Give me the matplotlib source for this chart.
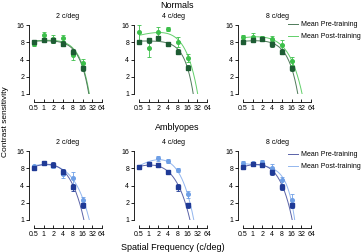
import numpy as np
import matplotlib.pyplot as plt
from matplotlib.lines import Line2D

plt.rcParams['font.family'] = ['Liberation Sans', 'DejaVu Sans']

# ==== Data ====
FREQS = [0.5, 1, 2, 4, 8, 16]
X_TICKS = [0.5, 1, 2, 4, 8, 16, 32, 64]
X_TICK_LABELS = ['0.5', '1', '2', '4', '8', '16', '32', '64']
Y_TICKS = [1, 2, 4, 8, 16]
TRAINED = ['2 c/deg', '4 c/deg', '8 c/deg']

# mean contrast sensitivity, one row per trained frequency
normals_pre = [[8.2, 8.8, 8.7, 7.6, 5.5, 2.8],
               [8.2, 8.6, 9.4, 7.4, 5.5, 2.9],
               [8.2, 8.7, 9.1, 7.5, 5.5, 2.8]]
normals_pre_err = [[0.6, 0.8, 0.8, 0.7, 0.5, 0.3],
                   [0.6, 0.7, 0.7, 0.6, 0.5, 0.3],
                   [0.6, 0.6, 0.6, 0.9, 0.6, 0.3]]
normals_post = [[7.6, 10.5, 9.3, 9.6, 4.7, 3.5],
                [12.2, 6.3, 12.2, 13.5, 8.2, 4.3],
                [10.0, 10.0, 9.4, 9.0, 7.1, 3.8]]
normals_post_err = [[0.8, 1.5, 1.5, 1.2, 0.7, 0.6],
                    [3.5, 1.8, 2.5, 1.0, 1.5, 0.7],
                    [0.9, 1.5, 0.8, 1.3, 1.8, 0.6]]
amb_pre = [[8.2, 9.7, 9.3, 7.0, 3.7, 1.8],
           [8.3, 9.5, 9.1, 7.0, 3.7, 1.8],
           [8.3, 9.5, 9.1, 7.0, 3.8, 1.8]]
amb_pre_err = [[0.6, 0.5, 0.8, 0.8, 0.5, 0.2],
               [0.5, 0.5, 0.6, 0.6, 0.5, 0.2],
               [0.5, 0.6, 0.6, 0.8, 0.5, 0.2]]
amb_post = [[8.6, 9.8, 9.0, 6.4, 5.5, 2.2],
            [8.5, 9.6, 11.9, 10.7, 7.4, 2.8],
            [9.8, 9.8, 10.4, 8.0, 5.0, 2.2]]
amb_post_err = [[0.6, 0.5, 0.9, 1.0, 1.5, 0.3],
                [0.5, 0.5, 1.2, 1.0, 0.6, 0.4],
                [0.7, 0.6, 0.8, 1.5, 0.7, 0.6]]

# fitted curves: curve value at FIT_FREQS, plus the cut-off where sensitivity = 1
FIT_FREQS = [0.5, 2, 8, 16]
normals_pre_fit = [[8.2, 8.8, 5.7, 3.0], [8.2, 8.8, 5.6, 2.9], [8.2, 8.8, 5.6, 2.9]]
normals_pre_cut = [25, 24, 25]
normals_post_fit = [[8.3, 9.0, 6.0, 3.2], [10.5, 12.0, 8.8, 4.8], [9.6, 9.8, 7.0, 3.9]]
normals_post_cut = [26, 33, 34]
amb_pre_fit = [[8.4, 9.4, 3.8, 1.4], [8.4, 9.2, 3.9, 1.5], [8.4, 9.3, 3.9, 1.4]]
amb_pre_cut = [17.5, 19, 16.5]
amb_post_fit = [[8.6, 9.5, 5.3, 2.3], [8.8, 11.2, 7.2, 2.8], [9.2, 10.0, 5.0, 2.2]]
amb_post_cut = [26, 25, 20]

COLORS = {
    'Normals': {'pre': '#1d5c33', 'pre_line': '#4f7a5a', 'post': '#3cbf4a', 'post_line': '#62cf6a'},
    'Amblyopes': {'pre': '#1f3a96', 'pre_line': '#5a63a8', 'post': '#6e9fe6', 'post_line': '#93b6ee'},
}


# ==== Function: fit_curve ====
def fit_curve(anchor_vals, cutoff):
    f = np.array(FIT_FREQS + [cutoff], float)
    ln_s = np.log(np.array(anchor_vals + [1.0], float))
    w = np.array([1, 1, 1, 1.5, 3.0])  # keep the cut-off where it is in the figure
    best = None
    for d in np.linspace(0.8, 2.5, 69):
        A = np.column_stack([np.ones_like(f), np.log(f), -f ** d])
        coef = np.linalg.lstsq(A * w[:, None], ln_s * w, rcond=None)[0]
        err = np.sum(((A @ coef - ln_s) * w) ** 2)
        if best is None or err < best[0]:
            best = (err, coef, d)
    _, (a, b, c), d = best
    return lambda x: np.exp(a + b * np.log(x) - c * x ** d)


# ==== Function: draw_panel ====
def draw_panel(ax, title, colors, pre, pre_err, post, post_err, pre_fit, pre_cut, post_fit, post_cut):
    xs = np.geomspace(0.5, 64, 400)
    ax.plot(xs, fit_curve(post_fit, post_cut)(xs), color=colors['post_line'], lw=0.7)
    ax.plot(xs, fit_curve(pre_fit, pre_cut)(xs), color=colors['pre_line'], lw=0.7)
    ax.errorbar(FREQS, post, yerr=post_err, fmt='o', ms=2.6, color=colors['post'],
                elinewidth=0.6, capsize=1.2, capthick=0.6, clip_on=False)
    ax.errorbar(FREQS, pre, yerr=pre_err, fmt='s', ms=2.6, color=colors['pre'],
                elinewidth=0.6, capsize=1.2, capthick=0.6, clip_on=False)

    ax.set_xscale('log', base=2)
    ax.set_yscale('log', base=2)
    ax.set_xlim(0.5, 64)
    ax.set_ylim(1, 16)
    ax.set_xticks(X_TICKS)
    ax.set_xticklabels(X_TICK_LABELS)
    ax.set_yticks(Y_TICKS)
    ax.set_yticklabels([str(t) for t in Y_TICKS])
    ax.minorticks_off()
    ax.tick_params(axis='x', direction='in', length=2, width=0.6, labelsize=5, pad=2)
    ax.tick_params(axis='y', direction='out', length=2, width=0.6, labelsize=5, pad=1.5)
    for side in ['top', 'right']:
        ax.spines[side].set_visible(False)
    ax.spines['left'].set_position(('outward', 3.6))
    ax.spines['bottom'].set_position(('outward', 5.8))
    ax.spines['left'].set_linewidth(0.6)
    ax.spines['bottom'].set_linewidth(0.6)
    ax.set_title(title, fontsize=5, pad=5)


# ==== Figure ====
fig = plt.figure(figsize=(3.62, 2.52), dpi=100)
lefts = [34 / 362, 139 / 362, 243 / 362]
width = 68 / 362
height = 69 / 252
bottoms = [1 - 94 / 252, 1 - 220 / 252]

rows = [
    ('Normals', normals_pre, normals_pre_err, normals_post, normals_post_err,
     normals_pre_fit, normals_pre_cut, normals_post_fit, normals_post_cut),
    ('Amblyopes', amb_pre, amb_pre_err, amb_post, amb_post_err,
     amb_pre_fit, amb_pre_cut, amb_post_fit, amb_post_cut),
]

for r, (group, pre, pre_e, post, post_e, pre_f, pre_c, post_f, post_c) in enumerate(rows):
    colors = COLORS[group]
    for i in range(3):
        ax = fig.add_axes([lefts[i], bottoms[r], width, height])
        draw_panel(ax, TRAINED[i], colors, pre[i], pre_e[i], post[i], post_e[i],
                   pre_f[i], pre_c[i], post_f[i], post_c[i])
    handles = [Line2D([], [], color=colors['pre_line'], lw=0.7),
               Line2D([], [], color=colors['post_line'], lw=0.7)]
    legend_top = [1 - 21 / 252, 1 - 151 / 252][r]
    fig.legend(handles, ['Mean Pre-training', 'Mean Post-training'], loc='upper left',
               bbox_to_anchor=(288 / 362, legend_top), frameon=False, fontsize=5,
               handlelength=1.45, handletextpad=0.4, labelspacing=0.75,
               borderpad=0, borderaxespad=0)

fig.text(177 / 362, 1 - 5 / 252, 'Normals', ha='center', va='center', fontsize=6.5)
fig.text(177 / 362, 1 - 128 / 252, 'Amblyopes', ha='center', va='center', fontsize=6.5)
fig.text(6 / 362, 1 - 122 / 252, 'Contrast sensitivity', rotation=90,
         ha='center', va='center', fontsize=6)
fig.text(173 / 362, 1 - 247 / 252, 'Spatial Frequency (c/deg)', ha='center',
         va='center', fontsize=6.5)

fig.savefig('out.png', dpi=100)
plt.close(fig)
